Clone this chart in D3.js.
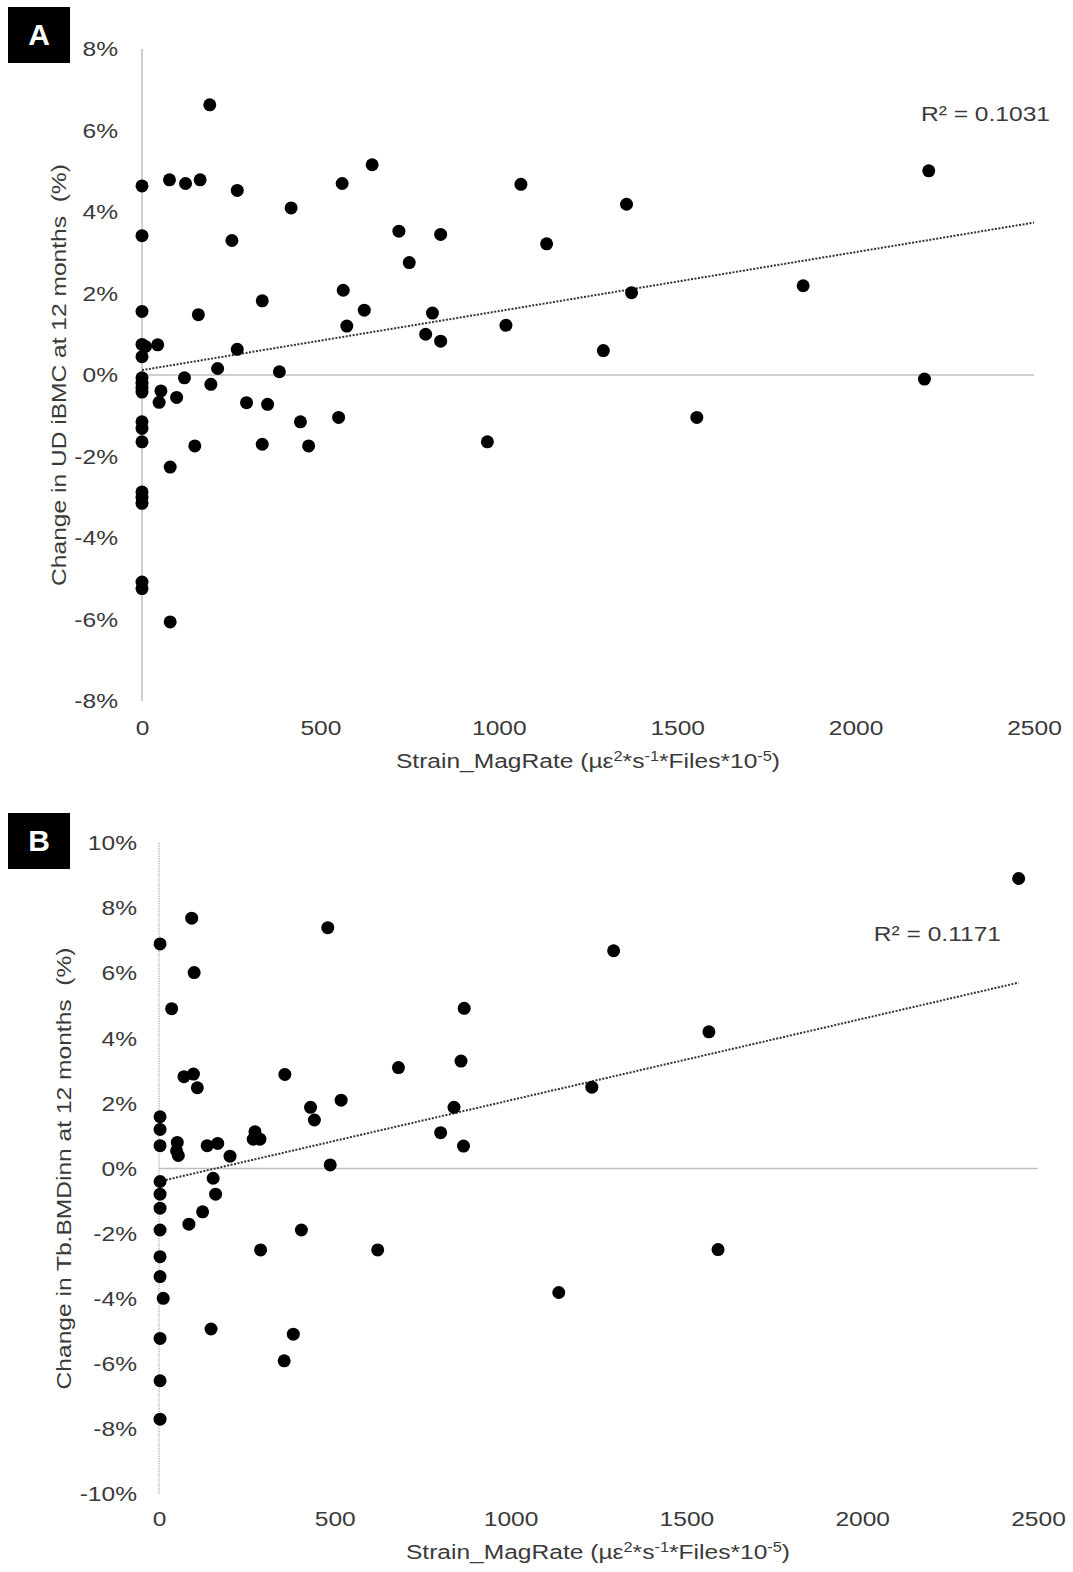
<!DOCTYPE html>
<html>
<head>
<meta charset="utf-8">
<script src="https://cdn.jsdelivr.net/npm/d3@7"></script>
<style>
  body { margin: 0; background: #fff; }
  svg { display: block; font-family: "Liberation Sans", Arial, sans-serif; }
  .tick text { fill: #3a3a3a; font-size: 21px; }
  .title { fill: #3a3a3a; font-size: 21px; }
</style>
</head>
<body>
<svg width="1073" height="1572"></svg>
<script>
// panel A: change in UD iBMC vs strain magnitude rate
const aStrain = [0, 77, 122, 163, 267, 418, 561, 645, 0, 252, 720, 837, 749, 0, 158, 337, 564, 623, 574, 814, 795, 837,
  0, 10, 44, 0, 267, 212, 385, 119, 193, 0, 0, 0, 0, 53, 48, 97, 293, 352, 444, 551, 0, 0, 0, 148, 337, 467, 79,
  0, 0, 0, 0, 0, 79, 1062, 1358, 1134, 1372, 1020, 1293, 968, 190, 2205, 2193, 1853, 1555];
const aChange = [4.64, 4.79, 4.70, 4.79, 4.53, 4.10, 4.70, 5.16, 3.42, 3.30, 3.53, 3.45, 2.76, 1.56, 1.48, 1.82, 2.08, 1.59, 1.20, 1.52, 1.00, 0.83,
  0.75, 0.70, 0.74, 0.45, 0.63, 0.16, 0.08, -0.07, -0.23, -0.07, -0.20, -0.32, -0.42, -0.39, -0.67, -0.55, -0.68, -0.72, -1.15, -1.04, -1.15, -1.31, -1.64, -1.74, -1.70, -1.74, -2.26,
  -2.87, -3.00, -3.15, -5.08, -5.24, -6.06, 4.68, 4.19, 3.22, 2.02, 1.22, 0.60, -1.64, 6.63, 5.01, -0.10, 2.19, -1.04];
const aTrendX = [0, 2500];
const aTrendY = [0.12, 3.74];
const aR2 = 'R² = 0.1031';
const aYTicks = [-8, -6, -4, -2, 0, 2, 4, 6, 8];

// panel B: change in Tb.BMDinn vs strain magnitude rate
const bStrain = [93, 3, 480, 100, 36, 868, 71, 98, 109, 358, 681, 859, 518, 431, 442, 839, 3, 3, 3, 52, 50, 55, 137, 167, 202,
  273, 268, 287, 801, 866, 487, 3, 3, 3, 3, 3, 3, 12, 3, 3, 3, 154, 161, 124, 85, 405, 289, 622, 148, 382, 356,
  2445, 1293, 1564, 1231, 1137, 1590];
const bChange = [7.69, 6.90, 7.40, 6.02, 4.91, 4.92, 2.82, 2.90, 2.48, 2.89, 3.10, 3.30, 2.10, 1.88, 1.49, 1.88, 1.59, 1.20, 0.70, 0.80, 0.54, 0.40, 0.70, 0.77, 0.38,
  1.13, 0.90, 0.90, 1.10, 0.69, 0.11, -0.40, -0.79, -1.22, -1.89, -2.71, -3.32, -3.99, -5.22, -6.52, -7.70, -0.30, -0.79, -1.33, -1.71, -1.89, -2.50, -2.50, -4.93, -5.09, -5.91,
  8.91, 6.69, 4.20, 2.50, -3.81, -2.49];
const bTrendX = [0, 2445];
const bTrendY = [-0.40, 5.71];
const bR2 = 'R² = 0.1171';
const bYTicks = [-10, -8, -6, -4, -2, 0, 2, 4, 6, 8, 10];

const xTicks = [0, 500, 1000, 1500, 2000, 2500];
const xTitle = 'Strain_MagRate (µε<tspan baseline-shift="super" font-size="14">2</tspan>*s<tspan baseline-shift="super" font-size="14">-1</tspan>*Files*10<tspan baseline-shift="super" font-size="14">-5</tspan>)';

// the source text is horizontally stretched compared to plain Arial
const stretch = 1.17;
function widen(sel) {
  sel.each(function () {
    const t = d3.select(this);
    const x = +t.attr('x') || 0;
    const prev = t.attr('transform') || '';
    t.attr('transform', `${prev} translate(${x},0) scale(${stretch},1) translate(${-x},0)`);
  });
}

const svg = d3.select('svg');

function drawPanel(p) {
  const g = svg.append('g');
  const x = d3.scaleLinear().domain([0, 2500]).range([p.left, p.right]);
  const y = d3.scaleLinear().domain(p.yDomain).range([p.bottom, p.top]);

  // vertical axis line and zero line
  g.append('line')
    .attr('x1', x(0)).attr('x2', x(0))
    .attr('y1', y(p.yDomain[1])).attr('y2', y(p.yDomain[0]))
    .attr('stroke', '#bfbfbf').attr('stroke-width', 1.5)
    .attr('stroke-dasharray', p.dottedAxis ? '1.5,1' : null);
  g.append('line')
    .attr('x1', x(0)).attr('x2', x(2500))
    .attr('y1', y(0)).attr('y2', y(0))
    .attr('stroke', '#bfbfbf').attr('stroke-width', 1.5);

  g.append('g')
    .attr('transform', `translate(${x(0)},0)`)
    .call(d3.axisLeft(y).tickValues(p.yTicks).tickSize(0).tickPadding(p.yPad).tickFormat(d => d + '%'))
    .call(s => s.select('.domain').remove())
    .call(s => widen(s.selectAll('text')));

  g.append('g')
    .attr('transform', `translate(0,${p.bottom})`)
    .call(d3.axisBottom(x).tickValues(xTicks).tickSize(0).tickPadding(p.xPad).tickFormat(d3.format('d')))
    .call(s => s.select('.domain').remove())
    .call(s => widen(s.selectAll('text')));

  // trendline
  g.append('line')
    .attr('x1', x(p.trendX[0])).attr('y1', y(p.trendY[0]))
    .attr('x2', x(p.trendX[1])).attr('y2', y(p.trendY[1]))
    .attr('stroke', '#333').attr('stroke-width', 2)
    .attr('stroke-dasharray', '2,1.5');

  g.append('g')
    .selectAll('circle')
    .data(p.xs.map((v, i) => [v, p.ys[i]]))
    .join('circle')
    .attr('cx', d => x(d[0]))
    .attr('cy', d => y(d[1]))
    .attr('r', 6.5)
    .attr('fill', '#000');

  g.append('text').attr('class', 'title')
    .attr('x', p.r2x).attr('y', p.r2y)
    .attr('text-anchor', 'end')
    .text(p.r2)
    .call(widen);

  g.append('text').attr('class', 'title')
    .attr('x', p.xTitleX).attr('y', p.xTitleY)
    .attr('text-anchor', 'middle')
    .html(xTitle)
    .call(widen);

  g.append('text').attr('class', 'title')
    .attr('transform', `translate(${p.yTitleX},${(p.top + p.bottom) / 2}) rotate(-90) scale(${stretch},1)`)
    .attr('text-anchor', 'middle')
    .attr('xml:space', 'preserve')
    .style('white-space', 'pre')
    .text(p.yTitle);

  // panel letter
  g.append('rect')
    .attr('x', 8).attr('y', p.boxY).attr('width', 62).attr('height', 56)
    .attr('fill', '#000');
  g.append('text')
    .attr('x', 39).attr('y', p.boxY + 38)
    .attr('text-anchor', 'middle')
    .attr('fill', '#fff')
    .attr('font-size', 30).attr('font-weight', 'bold')
    .text(p.letter);
}

drawPanel({
  letter: 'A', boxY: 7,
  left: 142, right: 1034, top: 49, bottom: 701,
  yDomain: [-8, 8], yTicks: aYTicks, yPad: 24, xPad: 19,
  xs: aStrain, ys: aChange, trendX: aTrendX, trendY: aTrendY,
  r2: aR2, r2x: 1050, r2y: 121,
  xTitleX: 588, xTitleY: 768,
  yTitle: 'Change in UD iBMC at 12 months  (%)', yTitleX: 66
});

drawPanel({
  letter: 'B', boxY: 813,
  left: 159, right: 1038, top: 843, bottom: 1494,
  yDomain: [-10, 10], yTicks: bYTicks, yPad: 22, xPad: 17,
  xs: bStrain, ys: bChange, trendX: bTrendX, trendY: bTrendY,
  r2: bR2, r2x: 1001, r2y: 941,
  xTitleX: 598, xTitleY: 1559, dottedAxis: true,
  yTitle: 'Change in Tb.BMDinn at 12 months  (%)', yTitleX: 71
});
</script>
</body>
</html>
